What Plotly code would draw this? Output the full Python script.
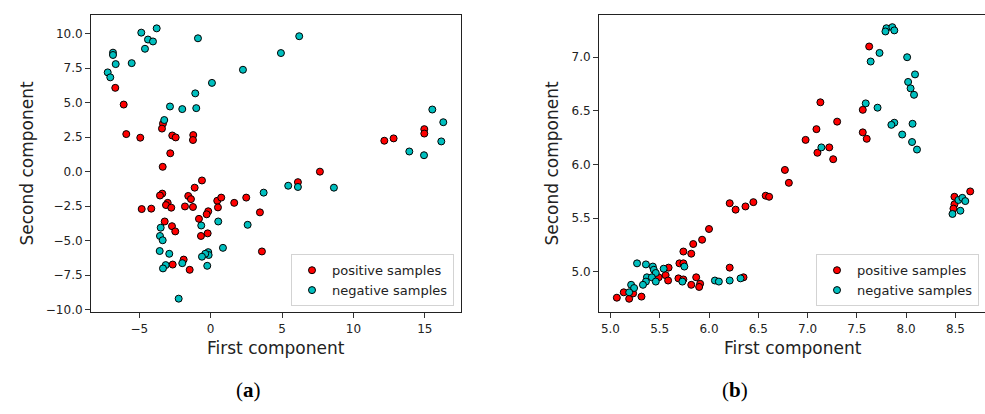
import plotly.graph_objects as go

# ---------------- data: panel (a) ----------------
a_pos_x = [-6.68, -6.09, -5.91, -4.93, -3.34, -3.41, -2.69, -2.45, -1.22, -1.24, -2.83, -3.36,
           7.65, 6.11, 14.96, 14.96, 12.16, 12.81,
           -0.61, -1.12, -3.39, -3.55, -1.57, -1.38, -3.01, -3.13, -2.76, -1.80, -1.24, -4.83,
           -4.16, 0.46, 0.74, 1.65, 2.49, 0.51, -0.17, -0.28, -0.82, 3.45, -3.22, -2.71,
           -2.48, -0.68, -0.21, 3.59, -1.89, -2.66, -1.47]
a_pos_y = [6.07, 4.86, 2.72, 2.46, 3.48, 3.12, 2.62, 2.48, 2.65, 2.29, 1.33, 0.35,
           0.00, -0.76, 3.08, 2.76, 2.24, 2.41,
           -0.64, -1.16, -1.59, -1.73, -1.76, -1.99, -2.26, -2.42, -2.61, -2.52, -2.56, -2.71,
           -2.68, -2.11, -1.88, -2.26, -1.88, -2.59, -2.87, -3.09, -3.42, -2.95, -3.61, -3.95,
           -4.33, -4.66, -4.47, -5.78, -6.37, -6.73, -7.11]
a_neg_x = [-3.78, -4.86, -4.39, -4.04, -4.60, -0.89, -6.84, -6.84, -6.65, -5.53, -7.21, -7.03,
           2.26, 0.09, -1.08, -2.85, -1.99, -1.01, -3.25, 4.92, 6.20,
           15.52, 16.29, 16.15, 13.91, 14.94, 6.11, 5.43, 8.63, 3.71,
           0.53, 2.59, -0.66, -3.50, -3.55, -3.36, 0.86, -3.57, -2.90, -0.17, -0.14, -0.38,
           -0.61, -1.99, -3.15, -3.34, -0.24, -2.24]
a_neg_y = [10.38, 10.07, 9.57, 9.43, 8.90, 9.66, 8.62, 8.45, 7.79, 7.86, 7.19, 6.83,
           7.38, 6.43, 5.67, 4.72, 4.53, 4.60, 3.74, 8.59, 9.81,
           4.50, 3.58, 2.19, 1.46, 1.19, -1.11, -1.02, -1.16, -1.52,
           -3.61, -3.85, -3.90, -4.06, -4.66, -4.97, -5.52, -5.75, -5.95, -5.83, -6.04, -5.95,
           -6.16, -6.63, -6.77, -7.01, -6.82, -9.20]

# ---------------- data: panel (b) ----------------
b_pos_x = [6.77, 6.81, 6.575, 6.61, 6.45, 6.21, 6.27, 6.37, 6.00, 5.93, 5.84, 5.74, 5.82,
           5.70, 5.74, 5.59, 5.56, 5.585, 5.49, 5.69, 5.74, 5.87, 5.82, 5.91, 5.90, 6.21,
           6.35, 5.135, 5.065, 5.19, 5.23, 5.315,
           7.625, 7.13, 7.56, 7.30, 7.09, 7.56, 7.60, 6.98, 7.22, 7.10, 7.26,
           8.65, 8.49, 8.49, 8.48]
b_pos_y = [5.95, 5.83, 5.71, 5.70, 5.65, 5.64, 5.58, 5.61, 5.40, 5.30, 5.26, 5.19, 5.17,
           5.08, 5.08, 5.04, 4.97, 4.92, 4.95, 4.94, 4.93, 4.95, 4.88, 4.89, 4.86, 5.04,
           4.95, 4.81, 4.76, 4.75, 4.80, 4.77,
           7.10, 6.58, 6.51, 6.40, 6.33, 6.30, 6.24, 6.23, 6.16, 6.11, 6.05,
           5.75, 5.70, 5.63, 5.59]
b_neg_x = [5.27, 5.36, 5.43, 5.44, 5.54, 5.46, 5.37, 5.42, 5.46, 5.36, 5.33, 5.21, 5.24,
           5.19, 5.75, 5.73, 6.06, 6.10, 6.21, 6.32,
           7.80, 7.86, 7.88, 7.79, 7.73, 7.64, 8.01, 8.09, 8.02, 8.045, 8.08, 7.59, 7.71,
           7.88, 7.85, 8.065, 7.96, 8.06, 8.11, 7.14,
           8.53, 8.57, 8.60, 8.55, 8.47]
b_neg_y = [5.08, 5.07, 5.05, 5.02, 5.03, 4.99, 4.95, 4.95, 4.91, 4.91, 4.88, 4.88, 4.85,
           4.81, 5.05, 4.91, 4.92, 4.91, 4.92, 4.94,
           7.27, 7.28, 7.25, 7.24, 7.04, 6.96, 7.00, 6.84, 6.77, 6.71, 6.65, 6.57, 6.53,
           6.39, 6.37, 6.38, 6.28, 6.21, 6.14, 6.16,
           5.67, 5.69, 5.66, 5.57, 5.54]

# ---------------- tick labels ----------------
a_xticks = [-5, 0, 5, 10, 15]
a_xtick_text = ["\u22125", "0", "5", "10", "15"]
a_yticks = [10.0, 7.5, 5.0, 2.5, 0.0, -2.5, -5.0, -7.5, -10.0]
a_ytick_text = ["10.0", "7.5", "5.0", "2.5", "0.0", "\u22122.5", "\u22125.0", "\u22127.5", "\u221210.0"]
b_xticks = [5.0, 5.5, 6.0, 6.5, 7.0, 7.5, 8.0, 8.5]
b_xtick_text = ["5.0", "5.5", "6.0", "6.5", "7.0", "7.5", "8.0", "8.5"]
b_yticks = [5.0, 5.5, 6.0, 6.5, 7.0]
b_ytick_text = ["5.0", "5.5", "6.0", "6.5", "7.0"]

series_names = ["positive samples", "negative samples"]
panel_labels = ["a", "b"]

W, H = 985, 414
RED = "#ff0000"
CYAN = "#00bfbf"
FONT = "DejaVu Sans"

def mk(x, y, name, color, xa, ya, legend, show=True):
    return go.Scatter(
        x=x, y=y, mode="markers", name=name, xaxis=xa, yaxis=ya, legend=legend,
        showlegend=show,
        marker=dict(size=7, color=color, line=dict(color="black", width=1)),
    )

fig = go.Figure()
fig.add_trace(mk(a_pos_x, a_pos_y, series_names[0], RED, "x", "y", "legend"))
fig.add_trace(mk(a_neg_x, a_neg_y, series_names[1], CYAN, "x", "y", "legend"))
fig.add_trace(mk(b_pos_x, b_pos_y, series_names[0], RED, "x2", "y2", "legend2"))
fig.add_trace(mk(b_neg_x, b_neg_y, series_names[1], CYAN, "x2", "y2", "legend2"))

# pixel geometry of axes
ax_top, ax_bot = 15, 316
a_left, a_right = 91, 461
b_left, b_right = 599, 985

ydom = [1 - ax_bot / H, 1 - ax_top / H]

axis_common = dict(
    showgrid=False, zeroline=False, showline=True, linecolor="#222", linewidth=1,
    ticks="outside", ticklen=5, tickwidth=1, tickcolor="#333",
    tickfont=dict(family=FONT, size=12, color="#222"),
)

fig.update_layout(
    width=W, height=H,
    margin=dict(l=0, r=0, t=0, b=0),
    paper_bgcolor="white", plot_bgcolor="white",
    font=dict(family=FONT, color="#222"),
    xaxis=dict(domain=[a_left / W, a_right / W], range=[-8.38, 17.53], anchor="y",
               tickvals=a_xticks, ticktext=a_xtick_text, mirror=True, **axis_common),
    yaxis=dict(domain=ydom, range=[-10.18, 11.36], anchor="x",
               tickvals=a_yticks, ticktext=a_ytick_text, mirror=True, **axis_common),
    xaxis2=dict(domain=[b_left / W, b_right / W], range=[4.884, 8.80], anchor="y2",
                tickvals=b_xticks, ticktext=b_xtick_text, mirror=True, **axis_common),
    yaxis2=dict(domain=ydom, range=[4.625, 7.395], anchor="x2",
                tickvals=b_yticks, ticktext=b_ytick_text, mirror=False, **axis_common),
    legend=dict(x=454 / W, xanchor="right", y=1 - 310 / H, yanchor="bottom",
                bgcolor="white", bordercolor="#d3d3d3", borderwidth=1,
                font=dict(family=FONT, size=13, color="#222"), tracegroupgap=0),
    legend2=dict(x=979 / W, xanchor="right", y=1 - 310 / H, yanchor="bottom",
                 bgcolor="white", bordercolor="#d3d3d3", borderwidth=1,
                 font=dict(family=FONT, size=13, color="#222"), tracegroupgap=0),
)

annotations = []
# x axis titles
for cx in [(a_left + a_right) / 2, 793]:
    annotations.append(dict(text="First component", x=cx / W, y=1 - 352 / H, xref="paper", yref="paper",
                            xanchor="center", yanchor="middle", showarrow=False,
                            font=dict(family=FONT, size=17, color="#222")))
# y axis titles
for cx in [27, 552]:
    annotations.append(dict(text="Second component", x=cx / W, y=1 - ((ax_top + ax_bot) / 2) / H,
                            xref="paper", yref="paper", textangle=-90,
                            xanchor="center", yanchor="middle", showarrow=False,
                            font=dict(family=FONT, size=17, color="#222")))
# panel labels
for lab, cx in zip(panel_labels, [248, 735]):
    annotations.append(dict(text="(<b>" + lab + "</b>)", x=cx / W, y=1 - 395 / H, xref="paper", yref="paper",
                            xanchor="center", yanchor="middle", showarrow=False,
                            font=dict(family="Liberation Serif", size=21, color="black")))
fig.update_layout(annotations=annotations)

fig.write_html("out.html")
